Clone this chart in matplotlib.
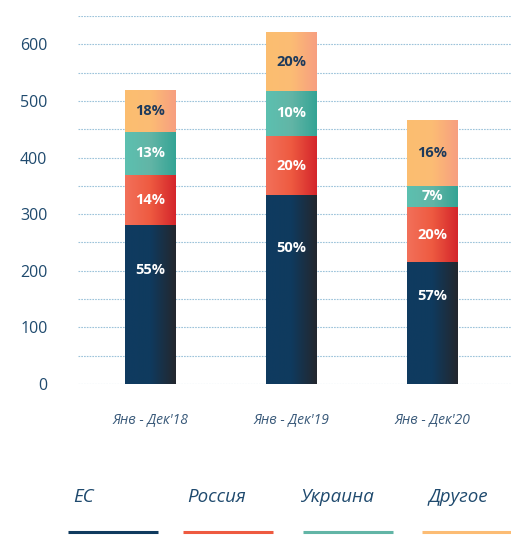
import numpy as np
import matplotlib
matplotlib.use('Agg')
import matplotlib.pyplot as plt
from matplotlib.colors import LinearSegmentedColormap
from matplotlib.lines import Line2D

plt.rcParams['font.family'] = ['Open Sans', 'DejaVu Sans']

periods = ["Янв - Дек'18", "Янв - Дек'19", "Янв - Дек'20"]
series = ["ЕС", "Россия", "Украина", "Другое"]
eu = [280, 333, 215]
russia = [90, 105, 98]
ukraine = [75, 80, 37]
other = [74, 103, 116]
pct_eu = ["55%", "50%", "57%"]
pct_russia = ["14%", "20%", "20%"]
pct_ukraine = ["13%", "10%", "7%"]
pct_other = ["18%", "20%", "16%"]

values = [eu, russia, ukraine, other]
pcts = [pct_eu, pct_russia, pct_ukraine, pct_other]
grads = [
    ["#0f3b60", "#0f3a5e", "#23272e"],
    ["#f2705a", "#ee5a40", "#d4262c"],
    ["#5cc0b0", "#62b5a6", "#35a495"],
    ["#fbbe70", "#fcbc74", "#f79f80"],
]
text_cols = ["white", "white", "white", "#1d3a5c"]
label_frac = [0.72, 0.5, 0.5, 0.5]
navy = "#1f4a6e"

fig = plt.figure(figsize=(5.11, 5.35), dpi=100)
ax = fig.add_axes([0.1526, 0.2822, 0.8474, 0.688])

x = np.arange(len(periods))
width = 0.36
bottom = np.zeros(len(periods))
grad_img = np.linspace(0, 1, 64).reshape(1, -1)
for i, vals in enumerate(values):
    bars = ax.bar(x, vals, width, bottom=bottom, color='none', edgecolor='none', zorder=3)
    cmap = LinearSegmentedColormap.from_list("g%d" % i, grads[i])
    for j, b in enumerate(bars):
        x0, y0 = b.get_x(), b.get_y()
        ax.imshow(grad_img, cmap=cmap, aspect='auto', zorder=3,
                  extent=[x0, x0 + b.get_width(), y0, y0 + b.get_height()])
        ax.text(x[j], y0 + b.get_height() * label_frac[i], pcts[i][j],
                ha='center', va='center', fontsize=10.5, fontweight='bold',
                color=text_cols[i], zorder=4)
    bottom += np.array(vals)

ax.set_xlim(-0.514, 2.557)
ax.set_ylim(0, 650)
ax.set_yticks(np.arange(0, 601, 100))
ax.set_yticks(np.arange(0, 651, 50), minor=True)
ax.grid(True, which='both', axis='y', linestyle=(0, (1.5, 1)), color='#9cc3da', linewidth=0.8, zorder=0)
ax.set_xticks(x)
ax.set_xticklabels(periods, fontstyle='italic', fontsize=10, color='#3a5a7a')
ax.tick_params(axis='x', length=0, pad=21)
ax.tick_params(axis='y', which='both', length=0, labelsize=11.5, labelcolor=navy, pad=22)
for s in ax.spines.values():
    s.set_visible(False)

# legend at the bottom
leg_x = [0.143, 0.366, 0.587, 0.838]
line_x = [0.133, 0.358, 0.593, 0.826]
for i, name in enumerate(series):
    fig.text(leg_x[i], 0.071, name, fontsize=13.5, fontstyle='italic', color=navy,
             ha='left', va='center')
    fig.add_artist(Line2D([line_x[i], line_x[i] + 0.177], [0.006, 0.006],
                          color=grads[i][1], linewidth=2.2, solid_capstyle='butt'))

plt.savefig("out.png", dpi=100)
